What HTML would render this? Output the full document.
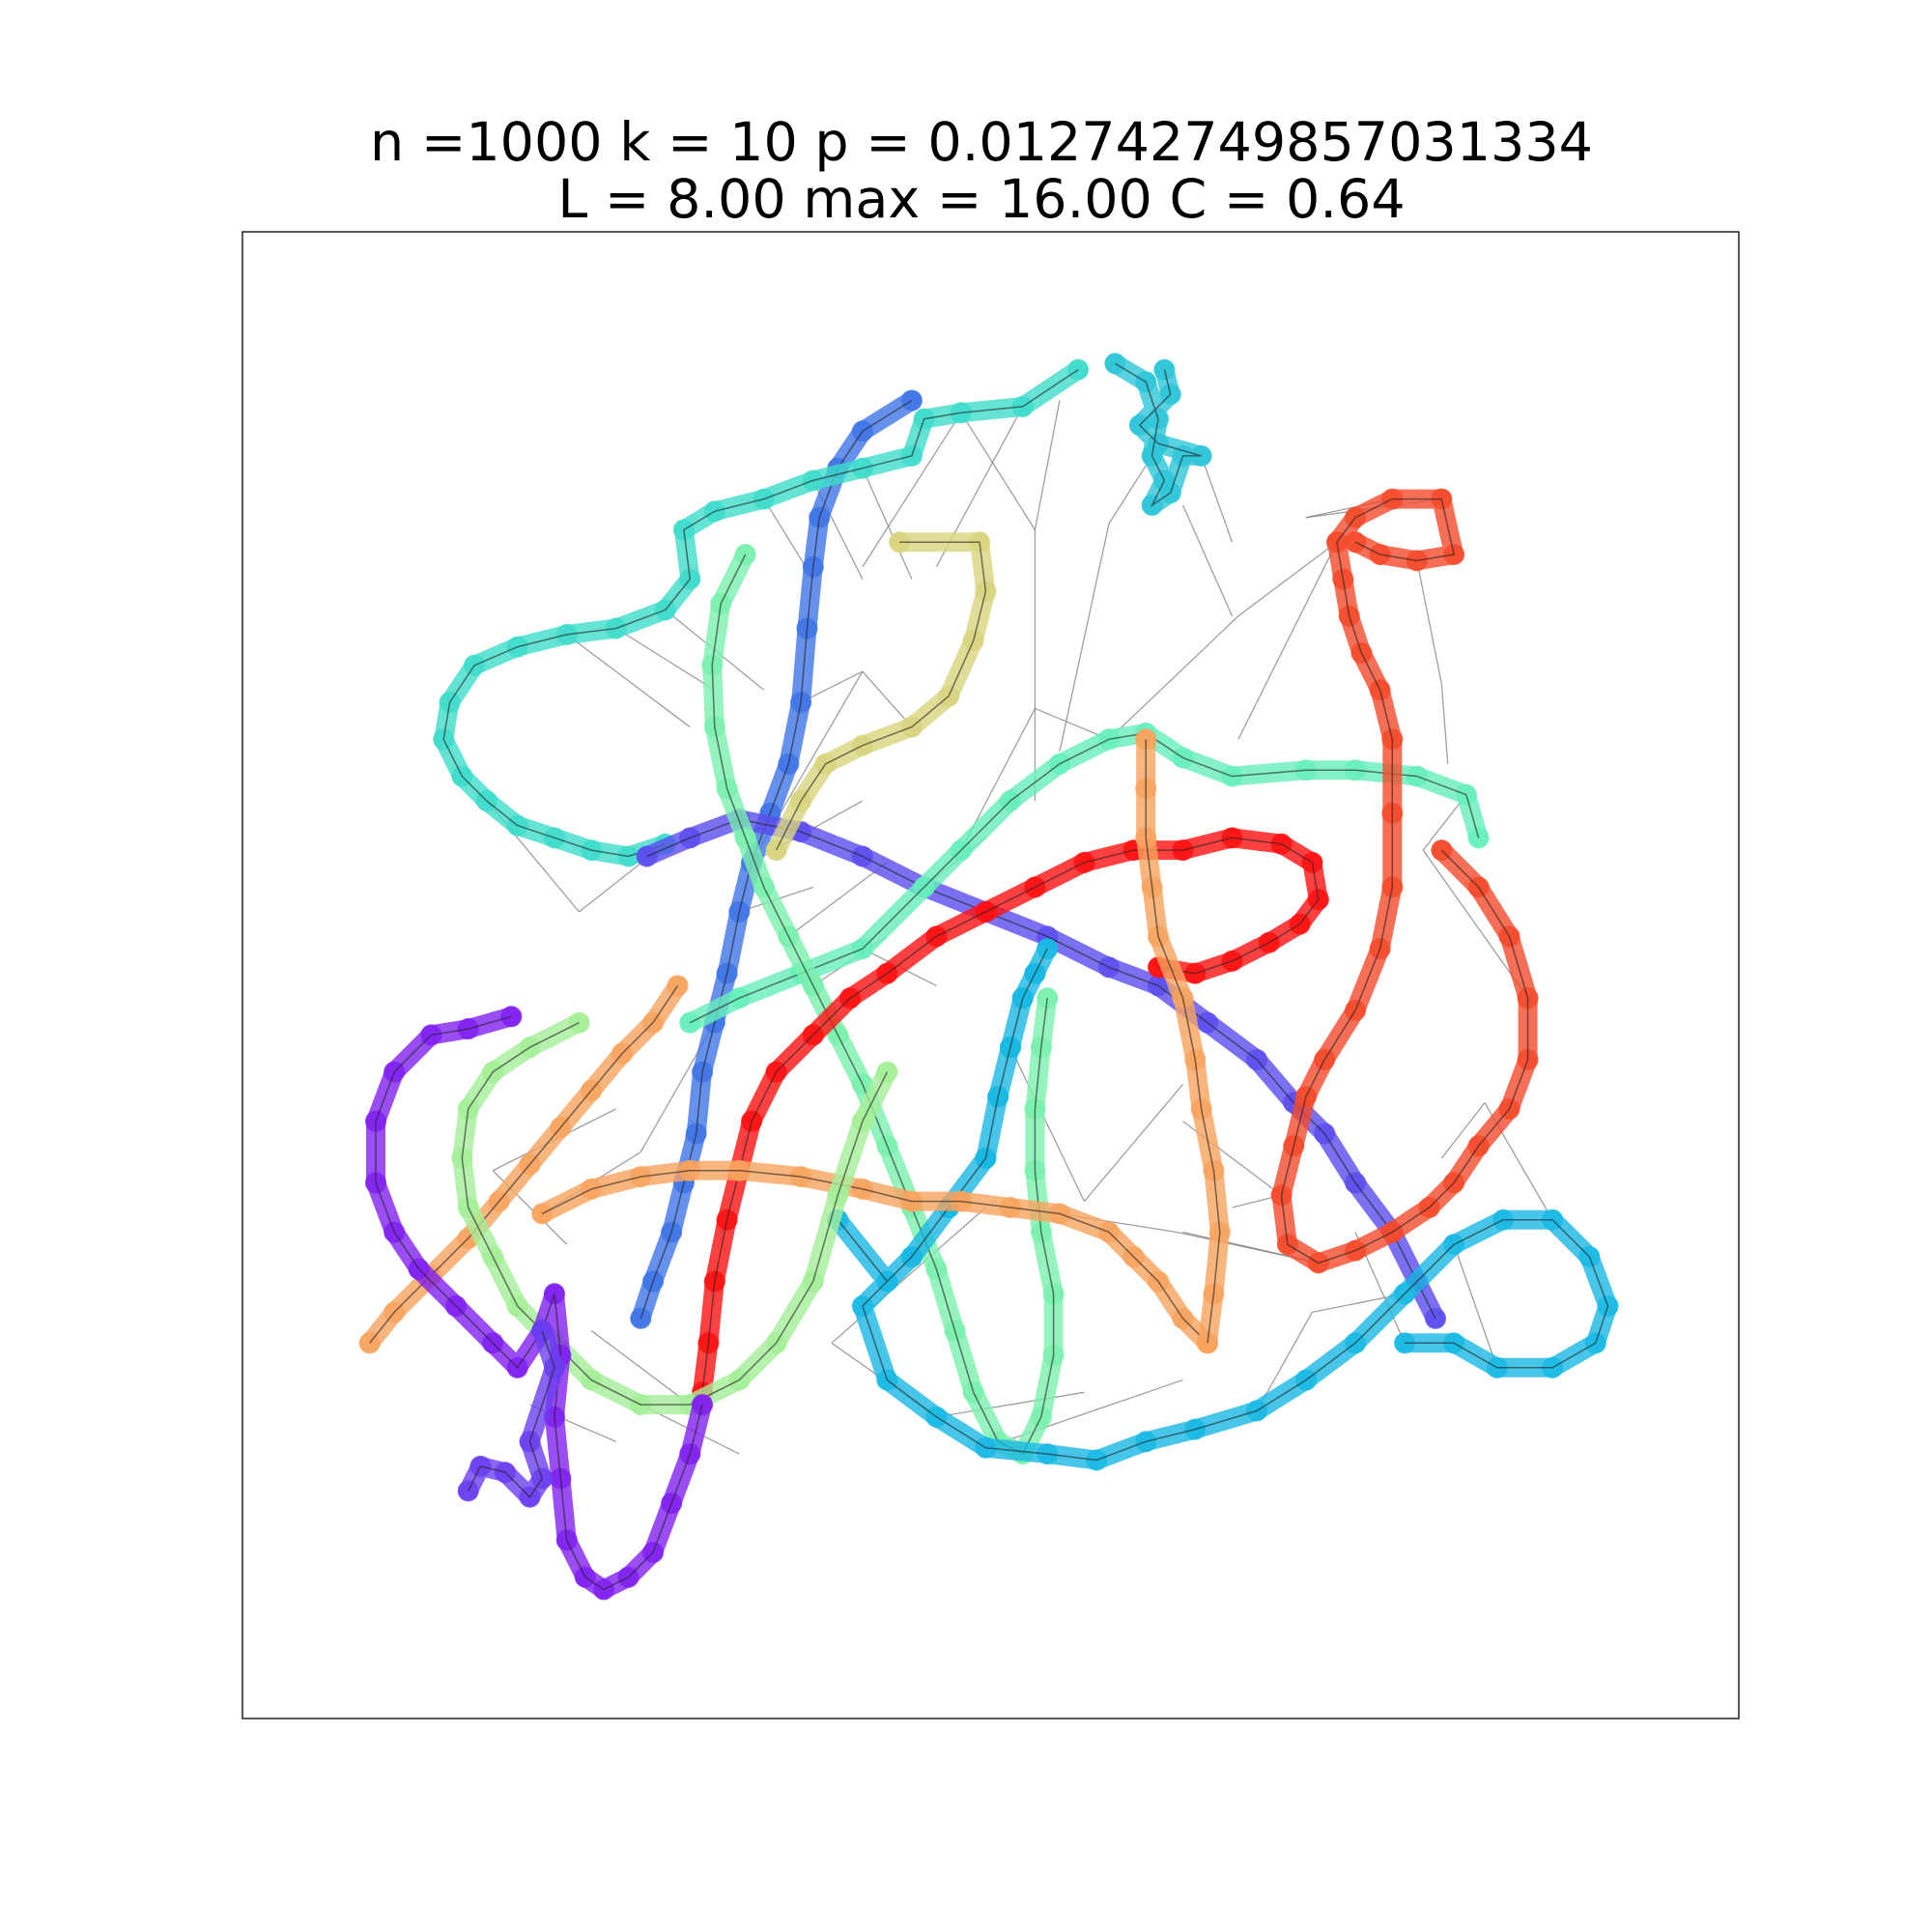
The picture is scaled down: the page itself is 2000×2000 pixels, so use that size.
<!DOCTYPE html>
<html><head><meta charset="utf-8"><style>
html,body{margin:0;padding:0;background:#fff;}
svg{display:block;}
text{font-family:"DejaVu Sans","Liberation Sans",sans-serif;}
</style></head><body>
<svg id="chart" width="2000" height="2000" viewBox="0 0 2000 2000" xmlns="http://www.w3.org/2000/svg">
<rect width="2000" height="2000" fill="#fff"/>
<text x="1016" y="166" font-size="55.5" text-anchor="middle">n =1000 k = 10 p = 0.012742749857031334</text>
<text x="1016" y="225" font-size="55.5" text-anchor="middle">L = 8.00 max = 16.00 C = 0.64</text>
<g id="edges"></g>
<g id="chains"></g>
<rect x="251" y="240" width="1549" height="1539" fill="none" stroke="#000" stroke-width="1.3"/>
</svg>
<script>
const chainNames=["blue","turquoise","slateblue","aquamarine","khaki","mint","cyan","red","orangered","orange-diag","orange-horiz","orange-vert","lightgreen","purple","violet","cyanbox"];
const chainColors=["#3f74e6","#3edccb","#5a4cee","#66eebc","#d8d47e","#7af0ae","#1ab8e4","#ff1010","#f44a2c","#f8a35e","#f8a35e","#f8a35e","#a4ee98","#8020f0","#6a3ef0","#2ec6d8"];
const chainPoints=[
[[740,325],[700,350],[680,380],[665,420],[660,460],[655,510],[650,570],[640,620],[625,660],[610,700],[600,740],[590,790],[580,830],[570,870],[565,920],[555,960],[545,1000],[530,1040],[520,1070]],
[[875,300],[830,330],[780,335],[750,340],[740,370],[700,380],[660,390],[620,405],[580,415],[555,430],[560,470],[540,495],[500,510],[460,515],[420,525],[385,540],[365,570],[360,600],[375,630],[395,650],[420,670],[450,680],[480,690],[510,695],[540,685]],
[[525,695],[560,680],[600,665],[650,675],[700,695],[750,720],[800,740],[850,760],[900,785],[940,800],[980,830],[1020,860],[1050,895],[1075,920],[1100,960],[1130,1000],[1150,1040],[1165,1070]],
[[560,830],[600,810],[650,790],[700,770],[750,720],[780,690],[820,650],[860,620],[900,600],[930,595],[960,615],[1000,630],[1060,625],[1100,625],[1150,630],[1190,645],[1200,680]],
[[730,440],[795,440],[800,480],[790,520],[770,565],[740,590],[700,605],[670,620],[650,650],[630,690]],
[[605,450],[585,490],[578,540],[580,590],[590,640],[605,680],[620,720],[640,760],[660,800],[680,840],[700,880],[720,930],[740,980],[760,1030],[775,1080],[790,1130],[810,1170],[830,1180],[845,1150],[855,1100],[855,1050],[845,1000],[840,950],[840,900],[845,850],[850,810]],
[[680,990],[720,1040],[740,1020],[770,980],[800,940],[810,890],[820,850],[830,810],[840,790],[850,770],[840,790],[830,810],[820,850],[810,890],[800,940],[770,980],[740,1020],[720,1040],[700,1060],[720,1120],[760,1150],[800,1175],[850,1180],[890,1185],[930,1170],[970,1160],[1020,1145],[1060,1120],[1100,1090],[1140,1050],[1180,1010],[1220,990],[1260,990],[1290,1020],[1305,1060],[1295,1090],[1260,1110],[1215,1110],[1180,1090],[1140,1090]],
[[570,1130],[575,1090],[580,1040],[590,990],[600,950],[610,910],[630,870],[660,840],[690,810],[720,790],[760,760],[800,740],[840,720],[880,700],[920,690],[960,690],[1000,680],[1040,685],[1065,700],[1070,730],[1055,750],[1030,765],[1000,780],[970,790],[940,785]],
[[1170,690],[1200,720],[1225,760],[1240,810],[1240,860],[1225,900],[1200,930],[1180,960],[1160,980],[1130,1000],[1100,1015],[1070,1025],[1045,1010],[1040,970],[1050,930],[1060,890],[1075,860],[1100,820],[1120,770],[1130,720],[1130,660],[1130,600],[1120,560],[1105,530],[1095,500],[1090,470],[1085,440],[1100,420],[1130,405],[1170,405],[1180,450],[1150,455],[1120,450],[1100,440]],
[[300,1090],[320,1065],[350,1035],[380,1005],[405,975],[430,945],[455,915],[480,885],[505,855],[530,830],[550,800]],
[[440,985],[480,965],[520,955],[560,950],[600,950],[650,955],[700,965],[740,975],[780,975],[820,980],[860,985],[900,1000],[920,1020],[940,1040],[960,1070],[980,1090]],
[[980,1090],[985,1050],[990,1000],[985,950],[975,900],[970,860],[960,810],[940,760],[935,720],[930,680],[930,640],[930,600]],
[[470,830],[430,850],[400,870],[380,900],[375,940],[380,980],[400,1020],[420,1060],[450,1090],[480,1120],[520,1140],[560,1140],[600,1120],[630,1090],[660,1040],[680,970],[700,910],[720,870]],
[[415,825],[380,835],[350,840],[320,870],[305,910],[305,960],[320,1000],[340,1030],[370,1060],[400,1090],[420,1110],[440,1080],[450,1050],[455,1100],[450,1150],[455,1200],[460,1250],[475,1280],[490,1290],[510,1280],[530,1260],[545,1220],[560,1180],[570,1140]],
[[380,1210],[390,1190],[410,1195],[430,1215],[440,1200],[430,1170],[450,1110],[440,1080]],
[[905,295],[930,310],[940,340],[935,370],[945,390],[935,410],[950,400],[960,370],[975,370],[940,360],[925,345],[950,320],[945,300]]
];
const edgeFrom=[[840,430],[840,430],[840,430],[900,425],[900,425],[1005,500],[1005,500],[1170,555],[1170,555],[470,740],[470,740],[520,935],[520,935],[1065,1065],[1065,1065],[675,1090],[675,1090],[955,1000],[955,1000],[1155,690],[1155,690],[1205,895],[1205,895],[700,545],[700,545],[700,545],[840,575],[840,575],
[540,495],[500,510],[460,515],[620,405],[660,390],[700,380],[780,335],[830,330],[975,370],[975,370],[960,410],[1060,420],[1060,420],[1085,440],[610,700],[600,740],[640,760],[660,800],[700,770],[750,720],[1040,970],[1040,970],[1070,1025],[1215,1110],[1140,1090],[880,975],[880,975],[400,950],[400,950],[430,1140],[480,1080],[520,1140],[760,1150],[800,1175]];
const edgeTo=[[780,335],[860,325],[840,650],[935,370],[860,610],[1085,440],[900,600],[1150,455],[1175,620],[395,650],[540,685],[440,985],[580,830],[1140,1050],[1020,1145],[800,980],[760,1150],[1070,1025],[860,985],[1190,645],[1240,810],[1260,990],[1170,940],[650,570],[740,590],[610,700],[900,600],[780,690],
[620,560],[580,560],[560,590],[660,470],[700,470],[740,470],[700,460],[760,460],[940,360],[1000,440],[1000,500],[1130,405],[1170,405],[1005,600],[700,650],[660,720],[720,700],[720,760],[760,800],[800,680],[960,910],[1000,980],[960,1000],[1180,1010],[1100,1000],[960,880],[820,850],[460,1010],[500,900],[500,1170],[560,1140],[600,1180],[880,1130],[960,1120]];
const S=2000/1568;
const X=v=>v*S, Y=v=>v*S;
const NS="http://www.w3.org/2000/svg";
const eg=document.getElementById('edges');
for(let i=0;i<edgeFrom.length;i++){
 const l=document.createElementNS(NS,'line');
 l.setAttribute('x1',X(edgeFrom[i][0]));l.setAttribute('y1',Y(edgeFrom[i][1]));
 l.setAttribute('x2',X(edgeTo[i][0]));l.setAttribute('y2',Y(edgeTo[i][1]));
 l.setAttribute('stroke','#777');l.setAttribute('stroke-width','1.3');l.setAttribute('opacity','0.7');
 
 
 eg.appendChild(l);
}
const cg=document.getElementById('chains');
chainPoints.forEach((pts,ci)=>{
 const g=document.createElementNS(NS,'g');
 
 
 const d=pts.map((p,i)=>(i?'L':'M')+X(p[0]).toFixed(1)+' '+Y(p[1]).toFixed(1)).join(' ');
 const band=document.createElementNS(NS,'path');
 band.setAttribute('d',d);band.setAttribute('fill','none');band.setAttribute('stroke',chainColors[ci]);
 band.setAttribute('stroke-width','20');band.setAttribute('stroke-linecap','round');band.setAttribute('stroke-linejoin','round');band.setAttribute('opacity','0.8');
 
 
 g.appendChild(band);
 pts.forEach(p=>{
  const c=document.createElementNS(NS,'circle');
  c.setAttribute('cx',X(p[0]));c.setAttribute('cy',Y(p[1]));c.setAttribute('r','11');
  c.setAttribute('fill',chainColors[ci]);c.setAttribute('opacity','0.85');
  
  
  g.appendChild(c);
 });
 const core=document.createElementNS(NS,'path');
 core.setAttribute('d',d);core.setAttribute('fill','none');core.setAttribute('stroke','#222');core.setAttribute('stroke-width','1.5');core.setAttribute('opacity','0.6');
 
 
 g.appendChild(core);
 cg.appendChild(g);
});
</script>
</body></html>
